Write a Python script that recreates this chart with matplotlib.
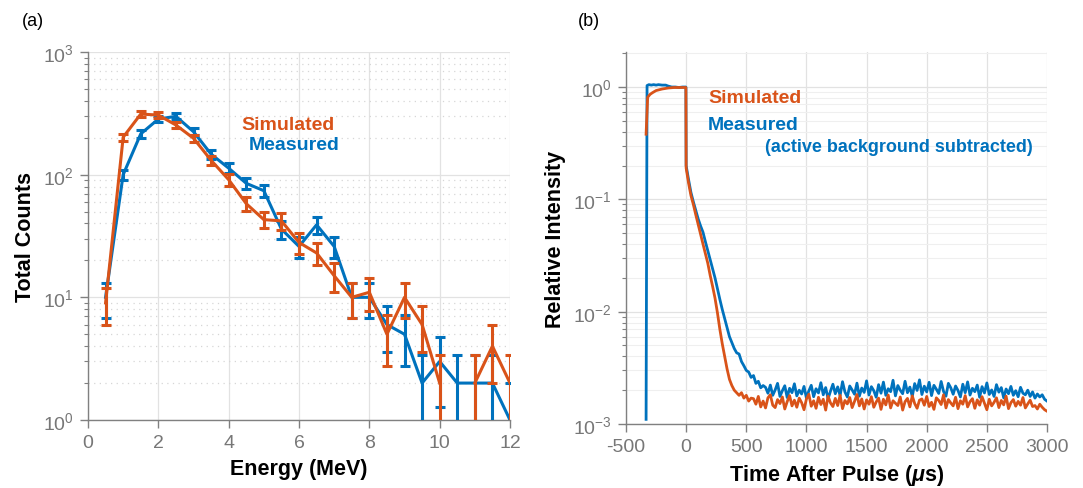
import numpy as np
import matplotlib
matplotlib.use('Agg')
import matplotlib.pyplot as plt
from matplotlib.ticker import LogLocator, FixedLocator, NullFormatter

plt.rcParams['font.family'] = ['Liberation Sans', 'DejaVu Sans']
plt.rcParams['mathtext.fontset'] = 'custom'
plt.rcParams['mathtext.rm'] = 'Liberation Sans'
plt.rcParams['mathtext.it'] = 'Liberation Sans:italic:bold'
plt.rcParams['mathtext.bf'] = 'Liberation Sans:bold'
plt.rcParams['axes.unicode_minus'] = False

BLUE = '#0072BD'
ORANGE = '#D95319'
TICKC = '#808080'

# ---------------- panel (a) data ----------------
energy = [0.5, 1.0, 1.5, 2.0, 2.5, 3.0, 3.5, 4.0, 4.5, 5.0, 5.5, 6.0,
          6.5, 7.0, 7.5, 8.0, 8.5, 9.0, 9.5, 10.0, 10.5, 11.0, 11.5, 12.0]
measured_counts = [10, 100, 215, 284, 299, 224, 147, 113, 85, 74, 36, 26,
                   39, 26, 10, 10, 6, 5, 2, 3, 2, 2, 2, 1]
simulated_counts = [9, 202, 312, 306, 254, 198, 131, 91, 58, 43, 42, 28,
                    23, 15, 10, 11, 5, 10, 6, 2, 0, 2, 4, 2]
energy_ticks = [0, 2, 4, 6, 8, 10, 12]

# ---------------- panel (b) data ----------------
sim_time_pre = [-333, -320, -300, -280, -250, -200, -150, -100, -50, -2]
sim_pre = [0.38, 0.81, 0.86, 0.89, 0.93, 0.96, 0.98, 0.99, 0.99, 0.99]
sim_decay = [0.19, 0.14, 0.108, 0.090, 0.073, 0.060, 0.049, 0.040, 0.033, 0.027,
             0.021, 0.0168, 0.0132, 0.0098, 0.0070, 0.0052, 0.0040, 0.0031, 0.0025, 0.0022,
             0.0020, 0.0019, 0.0018, 0.0019, 0.0017, 0.0018, 0.0016, 0.0017]
# tail (t = 560 ... 3000 us), in units of 1e-5
sim_tail = [168, 150, 176, 142, 160, 139, 171, 182, 147, 140, 165, 152, 174, 136, 158, 179, 145, 163, 141, 170,
            155, 134, 167, 184, 144, 161, 138, 173, 149, 166, 133, 177, 154, 143, 169, 146, 180, 137, 162, 151,
            172, 140, 159, 183, 145, 167, 136, 164, 150, 175, 141, 157, 170, 135, 166, 148, 181, 139, 161, 153,
            146, 174, 133, 158, 169, 142, 178, 152, 138, 163, 167, 147, 176, 143, 156, 135, 171, 162, 149, 182,
            139, 165, 154, 145, 173, 137, 161, 150, 179, 142, 158, 168, 138, 164, 147, 175, 153, 134, 166, 145,
            156, 171, 140, 162, 148, 177, 137, 155, 165, 144, 159, 147, 172, 139, 151, 163, 143, 146, 136, 150,
            141, 134, 130]

meas_time_pre = [-333, -325, -310, -290, -270, -250, -230, -200, -170, -150, -120, -90, -60, -30, -2]
meas_pre = [0.0011, 1.03, 1.05, 1.04, 1.05, 1.04, 1.05, 1.04, 1.04, 1.02, 1.0, 1.0, 0.99, 1.0, 1.0]
meas_decay = [0.20, 0.15, 0.115, 0.095, 0.080, 0.067, 0.058, 0.051, 0.042, 0.035,
              0.029, 0.024, 0.020, 0.016, 0.0129, 0.0105, 0.0087, 0.0072, 0.0060, 0.0053,
              0.0047, 0.0043, 0.0042, 0.0036, 0.0033, 0.0030, 0.0029, 0.0026, 0.0027, 0.0023,
              0.0024, 0.0021, 0.0022]
# tail (t = 660 ... 3000 us), in units of 1e-5
meas_tail = [212, 188, 222, 180, 201, 230, 176, 198, 219, 172, 208, 190, 228, 178, 200, 185, 216, 170, 197, 221,
             175, 206, 189, 233, 182, 211, 168, 196, 226, 186, 214, 179, 238, 193, 174, 218, 201, 184, 231, 177,
             209, 191, 242, 181, 215, 198, 173, 224, 188, 236, 180, 206, 194, 245, 178, 220, 200, 186, 240, 190,
             213, 176, 229, 199, 247, 183, 217, 193, 235, 179, 221, 204, 187, 239, 195, 177, 230, 210, 184, 218,
             199, 174, 226, 190, 237, 181, 208, 194, 222, 173, 215, 189, 232, 183, 201, 176, 224, 192, 211, 171,
             205, 186, 216, 180, 198, 175, 212, 188, 182, 200, 176, 193, 170, 185, 174, 182, 166, 160]
time_grid_step = 20
time_ticks = [-500, 0, 500, 1000, 1500, 2000, 2500, 3000]

# ---------------- build ----------------
W, H = 1083, 489
fig = plt.figure(figsize=(W / 100, H / 100), dpi=100)


def style_axes(ax):
    for s in ['top', 'right']:
        ax.spines[s].set_visible(False)
    for s in ['left', 'bottom']:
        ax.spines[s].set_color(TICKC)
        ax.spines[s].set_linewidth(1.0)
    ax.tick_params(which='major', direction='out', length=6, width=1.0, color=TICKC,
                   labelcolor='#777777', labelsize=14, pad=4)
    ax.tick_params(which='minor', direction='out', length=3, width=0.8, color=TICKC)
    ax.set_axisbelow(True)


# panel (a)
ax1 = fig.add_axes([88 / W, 1 - 421 / H, 422 / W, 368 / H])
e = np.array(energy)
m = np.array(measured_counts, dtype=float)
s = np.array(simulated_counts, dtype=float)
m_plot = np.where(m > 0, m, np.nan)
s_plot = np.where(s > 0, s, np.nan)
ax1.set_yscale('log', nonpositive='clip')
ax1.errorbar(e, m_plot, yerr=np.sqrt(m), color=BLUE, lw=2.2, elinewidth=2.2,
             capsize=3.5, capthick=2.2, zorder=3)
ax1.errorbar(e, s_plot, yerr=np.sqrt(s), color=ORANGE, lw=2.2, elinewidth=2.2,
             capsize=3.5, capthick=2.2, zorder=4)
ax1.set_xlim(0, 12)
ax1.set_ylim(1, 1000)
ax1.xaxis.set_major_locator(FixedLocator(energy_ticks))
ax1.yaxis.set_major_locator(LogLocator(base=10, numticks=10))
ax1.yaxis.set_minor_locator(LogLocator(base=10, subs=np.arange(2, 10), numticks=20))
ax1.yaxis.set_minor_formatter(NullFormatter())
ax1.grid(True, which='major', axis='both', color='#e2e2e2', lw=0.9, ls='-')
ax1.grid(True, which='minor', axis='y', color='#d6d6d6', lw=0.9, ls=(0, (1, 3.5)))
style_axes(ax1)
ax1.set_xlabel('Energy (MeV)', fontsize=15.5, fontweight='bold', labelpad=5)
ax1.set_ylabel('Total Counts', fontsize=15.5, fontweight='bold', labelpad=5)

# panel (b)
ax2 = fig.add_axes([626 / W, 1 - 425 / H, 421 / W, 372 / H])
grid_t = np.arange(0, 3001, time_grid_step)
sim_t = np.concatenate([sim_time_pre, grid_t])
sim_v = np.concatenate([sim_pre, sim_decay, np.array(sim_tail) * 1e-5])
meas_t = np.concatenate([meas_time_pre, grid_t])
meas_v = np.concatenate([meas_pre, meas_decay, np.array(meas_tail) * 1e-5])
ax2.set_yscale('log')
ax2.plot(meas_t, meas_v, color=BLUE, lw=2.0, zorder=3)
ax2.plot(sim_t, sim_v, color=ORANGE, lw=2.0, zorder=4)
ax2.set_xlim(-500, 3000)
ax2.set_ylim(1e-3, 2.05)
ax2.xaxis.set_major_locator(FixedLocator(time_ticks))
ax2.yaxis.set_major_locator(LogLocator(base=10, numticks=10))
ax2.yaxis.set_minor_locator(LogLocator(base=10, subs=np.arange(2, 10), numticks=20))
ax2.yaxis.set_minor_formatter(NullFormatter())
ax2.grid(True, which='major', axis='both', color='#e2e2e2', lw=0.9, ls='-')
ax2.grid(True, which='minor', axis='y', color='#efefef', lw=0.8, ls='-')
style_axes(ax2)
ax2.set_xlabel(r'Time After Pulse ($\mu$s)', fontsize=15.5, fontweight='bold', labelpad=5)
ax2.set_ylabel('Relative Intensity', fontsize=15.5, fontweight='bold', labelpad=5)

# annotations
def ftext(x, y, txt, **kw):
    fig.text(x / W, 1 - y / H, txt, **kw)

ftext(22, 22, '(a)', fontsize=13, va='center', ha='left', color='black')
ftext(578, 22, '(b)', fontsize=13, va='center', ha='left', color='black')
ftext(241, 125, 'Simulated', fontsize=14, fontweight='bold', color=ORANGE, va='center', ha='left')
ftext(249, 146, 'Measured', fontsize=14, fontweight='bold', color=BLUE, va='center', ha='left')
ftext(708, 99, 'Simulated', fontsize=14, fontweight='bold', color=ORANGE, va='center', ha='left')
ftext(708, 125, 'Measured', fontsize=14, fontweight='bold', color=BLUE, va='center', ha='left')
ftext(765, 148, '(active background subtracted)', fontsize=13, fontweight='bold', color=BLUE,
      va='center', ha='left')

fig.savefig('out.png', dpi=100, facecolor='white')
